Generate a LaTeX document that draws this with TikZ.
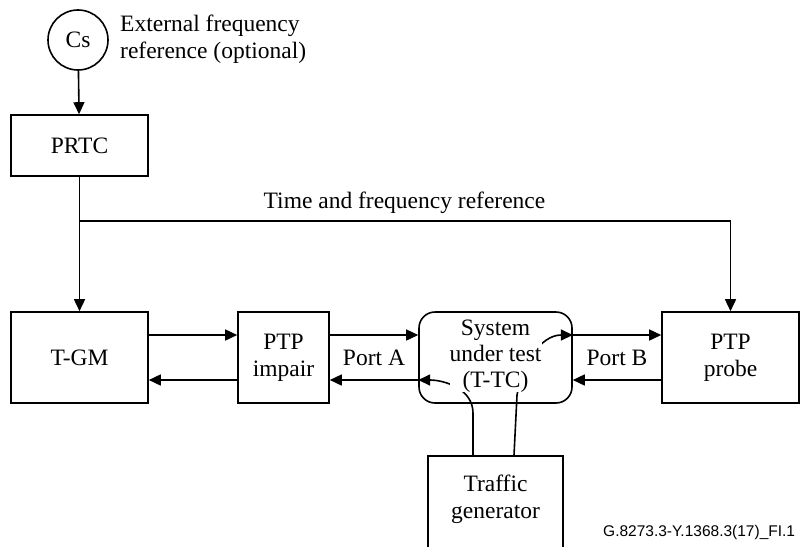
\documentclass[tikz,border=0pt]{standalone}
\usepackage{fontspec}
\setmainfont{Liberation Serif}
\newfontfamily\footfont{Liberation Sans}
\usetikzlibrary{arrows.meta,calc}
\begin{document}
\begin{tikzpicture}[x=1pt,y=-1pt,
  every node/.style={font=\fontsize{23.5}{27}\selectfont},
  box/.style={draw,line width=1.6pt,inner sep=0pt,align=center},
  conn/.style={line width=1.6pt,-{Triangle[length=12pt,width=11pt]}},
  plain/.style={line width=1.6pt},
  lbl/.style={inner sep=0pt,align=center}]
\useasboundingbox (0,0) rectangle (802,546);

% nodes
\node[box,circle,minimum size=60pt] (cs) at (78,40) {Cs};
\node[lbl,anchor=west,align=left] (ext) at (120,39) {External frequency\\reference (optional)};
\node[box,minimum width=137pt,minimum height=61pt] (prtc) at (79.5,145.5) {PRTC};
\node[box,minimum width=137pt,minimum height=91pt] (tgm) at (79.5,357.5) {T-GM};
\node[box,minimum width=91pt,minimum height=91pt] (imp) at (283.5,357.5) {PTP\\impair};
\node[box,minimum width=153pt,minimum height=91pt,rounded corners=16pt] (sut) at (495.5,357.5) {};
\node[box,minimum width=137pt,minimum height=91pt] (probe) at (730.5,357.5) {PTP\\probe};
\node[box,minimum width=135pt,minimum height=110pt] (tg) at (495.5,511) {};
\node[lbl] (tgtext) at (495.5,499) {Traffic\\generator};
\node[lbl] (porta) at (374,358) {Port A};
\node[lbl] (portb) at (617,358) {Port B};
\node[lbl] (tfr) at (404.5,203) {Time and frequency reference};
\node[lbl,anchor=base west,font=\footfont\fontsize{15.5}{18}\selectfont] (fig) at (603,536) {G.8273.3-Y.1368.3(17)\_FI.1};

% connectors
\draw[conn] (cs) -- (prtc);
\draw[conn] (prtc) -- (tgm);
\coordinate (br) at (79.5,221);
\draw[conn] (br) -| (probe.north);

\draw[conn] ([yshift=22.5pt]tgm.east) -- ([yshift=22.5pt]imp.west);
\draw[conn] ([yshift=22.5pt]imp.east) -- ([yshift=22.5pt]sut.west);
\draw[conn] ([yshift=22.5pt]sut.east) -- ([yshift=22.5pt]probe.west);
\draw[conn] ([yshift=-22.5pt]imp.west) -- ([yshift=-22.5pt]tgm.east);
\draw[conn] ([yshift=-22.5pt]sut.west) -- ([yshift=-22.5pt]imp.east);
\draw[conn] ([yshift=-22.5pt]probe.west) -- ([yshift=-22.5pt]sut.east);

% traffic generator injections
\draw[conn] ([xshift=-22.5pt]tg.north) -- ++(0,-42) to[out=90,in=0] ([yshift=-22.5pt]sut.west);
\draw[conn] ([xshift=18.5pt]tg.north) -- ++(3,-60) to[out=80,in=180] ([yshift=22.5pt]sut.east);

% system under test text on top
\node[lbl,fill=white,font=\fontsize{23.5}{26}\selectfont] (suttext) at (495.5,356) {System\\under test\\(T-TC)};
\end{tikzpicture}
\end{document}
